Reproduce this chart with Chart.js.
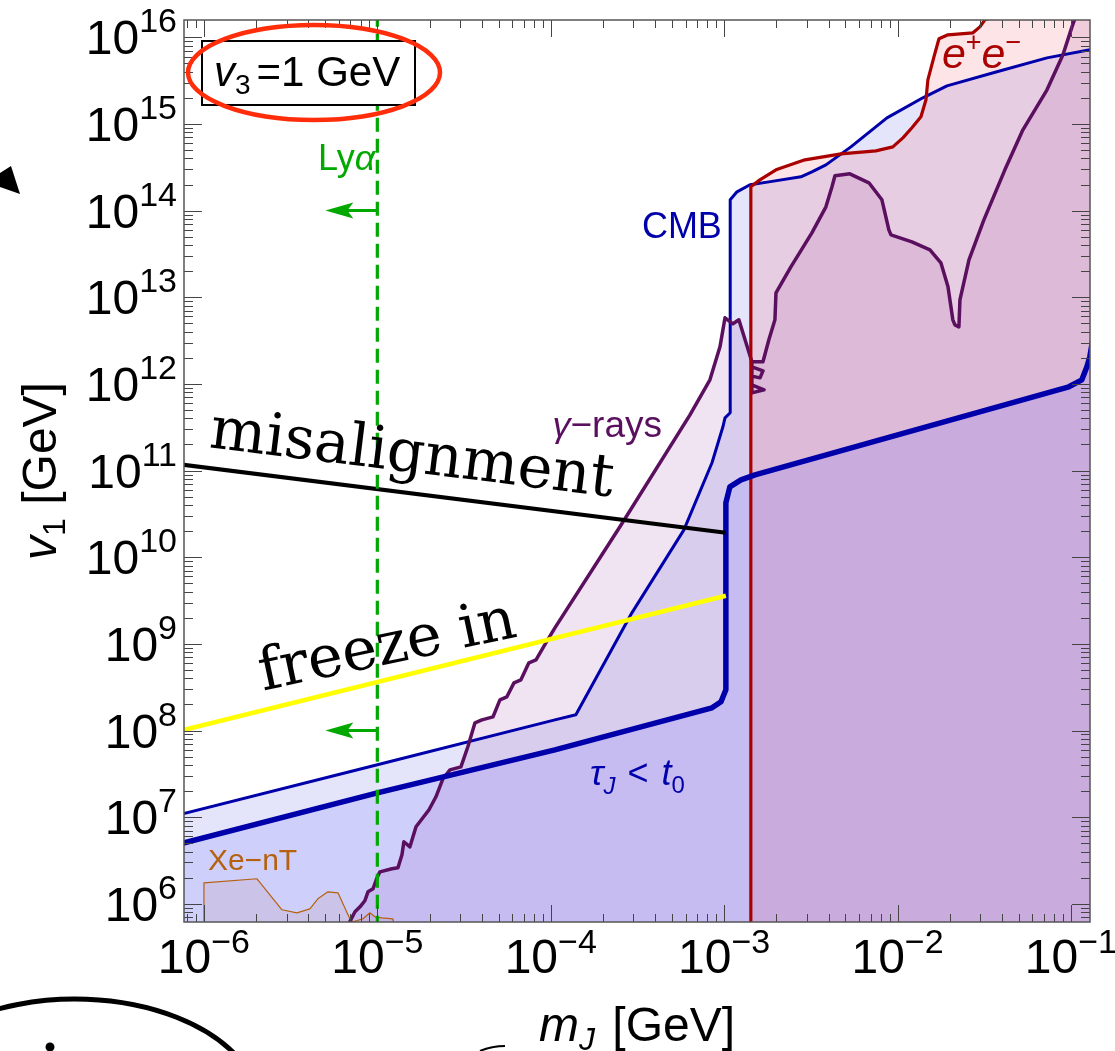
<!DOCTYPE html>
<html>
<head>
<meta charset="utf-8">
<script src="https://cdn.jsdelivr.net/npm/chart.js@4.4.1/dist/chart.umd.min.js"></script>
<style>
  html, body { margin: 0; padding: 0; background: #fff; }
  canvas { display: block; }
</style>
</head>
<body>
<canvas id="chart" width="1115" height="1051"></canvas>
<script>
"use strict"

// axis decades and limits, all as log10
const xTickExps = [-6, -5, -4, -3, -2, -1]
const yTickExps = [6, 7, 8, 9, 10, 11, 12, 13, 14, 15, 16]
const xRange = [-6.115, -0.89]
const yRange = [5.79, 16.2]

// curves: [log10 mJ, log10 v1]
const tauLine = [
	[-6.2, 6.66], [-5.0, 7.28], [-3.976, 7.777], [-3.07, 8.262], [-3.018, 8.331],
	[-2.99, 8.47], [-2.99, 10.628], [-2.967, 10.812], [-2.903, 10.893], [-2.822, 10.951],
	[-1.012, 11.967], [-0.937, 12.047], [-0.908, 12.197], [-0.891, 12.313], [-0.85, 12.8]
]
const cmbLine = [
	[-6.2, 7.0], [-5.0, 7.604], [-3.976, 8.123], [-3.855, 8.181], [-3.532, 9.358],
	[-3.232, 10.316], [-3.07, 11.09], [-3.007, 11.505], [-2.995, 11.609], [-2.965, 11.667],
	[-2.965, 14.125], [-2.926, 14.217], [-2.851, 14.298], [-2.742, 14.332], [-2.557, 14.39],
	[-2.494, 14.448], [-2.413, 14.528], [-2.269, 14.736], [-2.061, 15.071], [-1.854, 15.302],
	[-1.715, 15.44], [-1.427, 15.602], [-1.138, 15.763], [-0.89, 15.856], [-0.85, 15.9]
]
const gammaLine = [
	[-5.17, 5.75], [-5.129, 5.908], [-5.1, 5.965], [-5.072, 6.035], [-5.054, 6.138],
	[-5.025, 6.173], [-5.002, 6.3], [-4.985, 6.369], [-4.916, 6.404], [-4.881, 6.415],
	[-4.858, 6.565], [-4.847, 6.716], [-4.812, 6.658], [-4.777, 6.889], [-4.702, 7.085],
	[-4.662, 7.235], [-4.622, 7.443], [-4.581, 7.546], [-4.518, 7.581], [-4.478, 7.812],
	[-4.437, 8.089], [-4.397, 8.123], [-4.333, 8.158], [-4.293, 8.354], [-4.253, 8.389],
	[-4.212, 8.55], [-4.172, 8.585], [-4.126, 8.781], [-4.085, 8.816], [-4.028, 9.012],
	[-3.976, 9.185], [-3.601, 10.351], [-3.197, 11.643], [-3.082, 12.047], [-3.024, 12.428],
	[-2.995, 12.763], [-2.949, 12.694], [-2.915, 12.74], [-2.84, 12.255], [-2.84, 12.197],
	[-2.776, 12.151], [-2.793, 12.07], [-2.84, 12.09], [-2.84, 11.99], [-2.77, 11.932],
	[-2.84, 11.897], [-2.84, 12.255], [-2.776, 12.255], [-2.742, 12.509], [-2.707, 12.74],
	[-2.701, 13.051], [-2.615, 13.351], [-2.494, 13.744], [-2.413, 14.044], [-2.378, 14.275],
	[-2.361, 14.402], [-2.275, 14.425], [-2.165, 14.321], [-2.09, 14.125], [-2.05, 13.778],
	[-2.038, 13.721], [-1.917, 13.64], [-1.813, 13.548], [-1.75, 13.398], [-1.709, 13.121],
	[-1.681, 12.74], [-1.669, 12.682], [-1.646, 12.659], [-1.64, 12.971], [-1.588, 13.432],
	[-1.502, 13.894], [-1.381, 14.471], [-1.277, 14.933], [-1.138, 15.394], [-1.046, 15.798],
	[-0.994, 16.121], [-0.965, 16.283], [-0.937, 16.433], [-0.85, 16.6]
]
const eeLine = [
	[-2.846, 5.7], [-2.846, 14.275], [-2.794, 14.355], [-2.701, 14.471], [-2.534, 14.586],
	[-2.326, 14.655], [-2.125, 14.69], [-2.027, 14.736], [-1.969, 14.84], [-1.917, 14.956],
	[-1.865, 15.083], [-1.836, 15.279], [-1.825, 15.51], [-1.79, 15.775], [-1.761, 15.983],
	[-1.709, 16.029], [-1.565, 16.052], [-1.525, 16.121], [-1.496, 16.202], [-1.444, 16.236],
	[-1.317, 16.26], [-1.1, 16.35], [-0.85, 16.5]
]
const xenonLine = [
	[-6.0, 5.7], [-6.0, 6.242], [-5.694, 6.289], [-5.55, 5.931], [-5.464, 5.896],
	[-5.389, 5.942], [-5.343, 6.058], [-5.285, 6.138], [-5.227, 6.127], [-5.164, 5.85],
	[-5.141, 5.792], [-5.083, 5.827], [-5.043, 5.896], [-5.014, 5.85], [-4.973, 5.838],
	[-4.91, 5.827], [-4.9, 5.7]
]
const misalignLine = [[-6.2, 11.087], [-2.99, 10.282]]
const freezeLine = [[-6.2, 7.965], [-2.99, 9.555]]
const lyaMass = -5
const lyaArrows = [14, 8]

const SANS = '"Liberation Sans", Arial, Helvetica, sans-serif'
const SERIF = '"DejaVu Serif", "Liberation Serif", serif'

const pts = arr => arr.map(([a, b]) => ({ x: 10 ** a, y: 10 ** b }))

// draw a run of text pieces (for super/subscripts)
function rich(ctx, parts, x, y, align) {
	let w = 0
	parts.forEach(p => {
		ctx.font = p.font
		p.w = ctx.measureText(p.t).width + (p.gap || 0)
		w += p.w
	})
	let cx = align === "center" ? x - w / 2 : align === "right" ? x - w : x
	parts.forEach(p => {
		ctx.font = p.font
		ctx.fillText(p.t, cx, y + (p.dy || 0))
		cx += p.w
	})
}

const framePlugin = {
	id: "frame",
	afterDatasetsDraw(chart) {
		const { ctx, chartArea: a, scales: { x, y } } = chart
		const X = e => x.getPixelForValue(10 ** e)
		const Y = e => y.getPixelForValue(10 ** e)
		ctx.save()
		ctx.textAlign = "left"
		ctx.textBaseline = "alphabetic"

		// Ly-alpha arrows
		ctx.strokeStyle = "#00a800"
		ctx.fillStyle = "#00a800"
		ctx.lineWidth = 3
		lyaArrows.forEach(e => {
			const x0 = X(lyaMass), y0 = Y(e), tip = X(lyaMass - 0.3)
			ctx.beginPath()
			ctx.moveTo(x0, y0)
			ctx.lineTo(tip + 20, y0)
			ctx.stroke()
			ctx.beginPath()
			ctx.moveTo(tip, y0)
			ctx.lineTo(tip + 28, y0 - 8)
			ctx.lineTo(tip + 22, y0)
			ctx.lineTo(tip + 28, y0 + 8)
			ctx.closePath()
			ctx.fill()
		})
		rich(ctx, [
			{ t: "Ly", font: "36px " + SANS },
			{ t: "α", font: "italic 36px " + SANS }
		], X(lyaMass) - 2, Y(14.47), "right")

		// region labels
		ctx.fillStyle = "#0000aa"
		rich(ctx, [{ t: "CMB", font: "36px " + SANS }], X(-3.013), Y(13.686), "right")
		rich(ctx, [
			{ t: "τ", font: "italic 36px " + SANS },
			{ t: "J", font: "italic 24px " + SANS, dy: 9, gap: 12 },
			{ t: "<", font: "36px " + SANS, gap: 13 },
			{ t: "t", font: "italic 36px " + SANS },
			{ t: "0", font: "24px " + SANS, dy: 8 }
		], X(-3.774), Y(7.373), "left")
		ctx.fillStyle = "#5b0f5f"
		rich(ctx, [
			{ t: "γ", font: "italic 36px " + SANS },
			{ t: "−rays", font: "37px " + SANS }
		], X(-3.99), Y(11.39), "left")
		ctx.fillStyle = "#aa0000"
		rich(ctx, [
			{ t: "e", font: "italic 43px " + SANS },
			{ t: "+", font: "27px " + SANS, dy: -17 },
			{ t: "e", font: "italic 43px " + SANS },
			{ t: "−", font: "27px " + SANS, dy: -17 }
		], X(-1.744), Y(15.648), "left")
		ctx.fillStyle = "#b5610f"
		rich(ctx, [{ t: "Xe−nT", font: "30px " + SANS }], X(-5.977), Y(6.392), "left")

		// rotated serif labels
		ctx.fillStyle = "#000"
		ctx.font = "59px " + SERIF
		ctx.save()
		ctx.translate(X(-5.975), Y(11.27))
		ctx.rotate(7 * Math.PI / 180)
		ctx.fillText("misalignment", 0, 0)
		ctx.restore()
		ctx.save()
		ctx.translate(X(-5.66), Y(8.46))
		ctx.rotate(-12 * Math.PI / 180)
		ctx.fillText("freeze in", 0, 0)
		ctx.restore()

		// ticks on all four sides, pointing in
		ctx.strokeStyle = "#444"
		ctx.lineWidth = 1
		ctx.beginPath()
		for (let d = Math.floor(xRange[0]); d <= Math.ceil(xRange[1]); d++) {
			for (let k = 1; k <= 9; k++) {
				const v = k * 10 ** d
				if (v < x.min || v > x.max) continue
				const px = Math.round(x.getPixelForValue(v)) + 0.5
				const len = k === 1 ? 17 : 8
				ctx.moveTo(px, a.bottom); ctx.lineTo(px, a.bottom - len)
				ctx.moveTo(px, a.top); ctx.lineTo(px, a.top + len)
			}
		}
		for (let d = Math.floor(yRange[0]); d <= Math.ceil(yRange[1]); d++) {
			for (let k = 1; k <= 9; k++) {
				const v = k * 10 ** d
				if (v < y.min || v > y.max) continue
				const py = Math.round(y.getPixelForValue(v)) + 0.5
				const len = k === 1 ? 18 : 9
				ctx.moveTo(a.left, py); ctx.lineTo(a.left + len, py)
				ctx.moveTo(a.right, py); ctx.lineTo(a.right - len, py)
			}
		}
		ctx.stroke()
		ctx.strokeStyle = "#555"
		ctx.lineWidth = 1.5
		ctx.strokeRect(a.left, a.top, a.right - a.left, a.bottom - a.top)

		// tick labels
		ctx.fillStyle = "#000"
		yTickExps.forEach(e => {
			rich(ctx, [
				{ t: "10", font: "48px " + SANS },
				{ t: String(e), font: "34px " + SANS, dy: -22 }
			], a.left - 7, Y(e) + 17, "right")
		})
		xTickExps.forEach(e => {
			rich(ctx, [
				{ t: "10", font: "48px " + SANS },
				{ t: "−" + Math.abs(e), font: "34px " + SANS, dy: -20 }
			], X(e), a.bottom + 51, "center")
		})

		// axis titles
		rich(ctx, [
			{ t: "m", font: "italic 48px " + SANS },
			{ t: "J", font: "italic 32px " + SANS, dy: 9, gap: 4 },
			{ t: " [GeV]", font: "48px " + SANS }
		], (a.left + a.right) / 2, a.bottom + 119, "center")
		ctx.save()
		ctx.translate(56, (a.top + a.bottom) / 2)
		ctx.rotate(-Math.PI / 2)
		rich(ctx, [
			{ t: "v", font: "italic 48px " + SANS },
			{ t: "1", font: "32px " + SANS, dy: 9 },
			{ t: " [GeV]", font: "48px " + SANS }
		], 0, 0, "center")
		ctx.restore()

		// v3 box
		ctx.fillStyle = "#fff"
		ctx.fillRect(202, 41, 213, 64)
		ctx.strokeStyle = "#000"
		ctx.lineWidth = 2
		ctx.strokeRect(202, 41, 213, 64)
		ctx.fillStyle = "#000"
		rich(ctx, [
			{ t: "v", font: "italic 42px " + SANS },
			{ t: "3", font: "28px " + SANS, dy: 8, gap: 6 },
			{ t: "=1 GeV", font: "42px " + SANS }
		], 214, 86, "left")

		// slide markup around the plot
		ctx.strokeStyle = "#ff2d0a"
		ctx.lineWidth = 4.5
		ctx.beginPath()
		ctx.ellipse(314, 72.5, 126, 47.5, 0, 0, Math.PI * 2)
		ctx.stroke()
		ctx.fillStyle = "#000"
		ctx.beginPath()
		ctx.moveTo(0, 173); ctx.lineTo(11, 166); ctx.lineTo(20, 194); ctx.lineTo(0, 187)
		ctx.closePath()
		ctx.fill()
		ctx.strokeStyle = "#000"
		ctx.lineWidth = 5
		ctx.beginPath()
		ctx.ellipse(75, 1110, 185, 111, 0, Math.PI * 1.02, Math.PI * 1.85)
		ctx.stroke()
		ctx.beginPath()
		ctx.arc(50, 1047, 4.5, 0, Math.PI * 2)
		ctx.fill()
		ctx.lineWidth = 2
		ctx.beginPath()
		ctx.moveTo(480, 1051); ctx.quadraticCurveTo(492, 1046, 505, 1046)
		ctx.stroke()
		ctx.restore()
	}
}

const line = (data, color, width, extra) => Object.assign({
	data: pts(data),
	showLine: true,
	borderColor: color,
	borderWidth: width,
	pointRadius: 0,
	fill: false,
	borderJoinStyle: "round"
}, extra || {})

new Chart(document.getElementById("chart"), {
	type: "scatter",
	data: {
		datasets: [
			line([[lyaMass, 5.7], [lyaMass, 16.3]], "#00a800", 3.2, { borderDash: [14, 7], borderJoinStyle: "miter" }),
			line(freezeLine, "#ffff00", 4.5),
			line(misalignLine, "#000000", 4),
			line(tauLine, "#0000aa", 5.5, { fill: "start", backgroundColor: "rgba(84,85,253,0.15)" }),
			line(eeLine, "#aa0000", 3.2, { fill: "start", backgroundColor: "rgba(242,75,88,0.15)" }),
			line(gammaLine, "#5b0f5f", 3.5, { fill: "start", backgroundColor: "rgba(155,75,168,0.15)" }),
			line(cmbLine, "#0000aa", 3, { fill: "start", backgroundColor: "rgba(75,75,222,0.15)" }),
			line(xenonLine, "#b5610f", 1.2, { fill: "start", backgroundColor: "rgba(245,192,150,0.25)" })
		]
	},
	options: {
		responsive: false,
		devicePixelRatio: 1,
		animation: false,
		layout: { padding: { left: 184, right: 25, top: 20, bottom: 129 } },
		scales: {
			x: { type: "logarithmic", min: 10 ** xRange[0], max: 10 ** xRange[1], display: false },
			y: { type: "logarithmic", min: 10 ** yRange[0], max: 10 ** yRange[1], display: false }
		},
		plugins: {
			legend: { display: false },
			tooltip: { enabled: false },
			filler: { drawTime: "beforeDatasetsDraw" }
		}
	},
	plugins: [framePlugin]
})
</script>
</body>
</html>
